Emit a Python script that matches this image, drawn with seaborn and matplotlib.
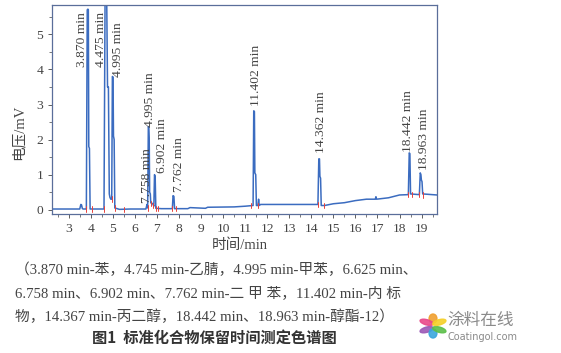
import matplotlib.pyplot as plt
import matplotlib.patches as mpatches
import seaborn as sns
import numpy as np
import pandas as pd

# chromatogram trace (time in min, signal in mV)
trace_time = [2.25, 3.50, 3.55, 3.58, 3.62, 3.66, 3.80, 3.84, 3.87, 3.89, 3.91, 3.94, 3.97,
              4.60, 4.65, 4.72, 4.76, 4.80, 4.84, 4.87, 4.91, 4.95, 4.98, 5.01, 5.03, 5.06, 5.09,
              5.30, 5.80, 6.20, 6.50, 6.55, 6.58, 6.61, 6.63, 6.65, 6.67, 6.70, 6.72, 6.75,
              6.80, 6.86, 6.89, 6.92, 6.95, 7.20, 7.70, 7.73, 7.77, 7.80, 8.40, 8.50, 9.20,
              9.30, 10.5, 11.0, 11.36, 11.39, 11.42, 11.44, 11.48, 11.51, 11.58, 11.61, 11.64,
              11.70, 12.5, 13.5, 14.30, 14.34, 14.37, 14.39, 14.42, 14.45, 14.60, 15.0, 15.5,
              16.0, 16.5, 16.9, 16.93, 16.96, 17.5, 18.0, 18.40, 18.44, 18.47, 18.50, 18.90,
              18.94, 18.97, 18.99, 19.02, 19.05, 19.70]
trace_mv = [0.02, 0.02, 0.15, 0.14, 0.03, 0.02, 0.02, 5.70, 5.72, 5.70, 1.80, 1.75, 0.02,
            0.02, 6.20, 6.20, 3.50, 3.50, 0.45, 0.35, 0.30, 0.30, 3.80, 3.78, 2.10, 2.00, 0.05,
            0.01, 0.02, 0.02, 0.02, 0.15, 0.05, 2.37, 2.35, 2.05, 0.50, 0.45, 0.20, 0.18,
            0.18, 0.10, 1.00, 0.95, 0.04, 0.03, 0.03, 0.40, 0.38, 0.03, 0.03, 0.06, 0.04,
            0.07, 0.08, 0.10, 0.12, 2.82, 2.80, 1.05, 1.00, 0.12, 0.12, 0.30, 0.12,
            0.15, 0.15, 0.15, 0.15, 1.45, 1.45, 0.95, 0.90, 0.12, 0.12, 0.17, 0.20,
            0.26, 0.30, 0.30, 0.37, 0.30, 0.34, 0.42, 0.43, 1.62, 1.60, 0.45, 0.43,
            1.05, 1.00, 0.85, 0.80, 0.45, 0.42]

# integration marks (red ticks) near the baseline
mark_time = [3.78, 4.06, 4.62, 4.95, 5.10, 5.50, 6.58, 6.75, 6.83, 6.97, 7.05,
             7.70, 7.88, 11.28, 11.58, 14.30, 14.58, 18.40, 18.55, 18.88, 19.05]
mark_base = [0.02, 0.02, 0.02, 0.30, 0.05, 0.01, 0.05, 0.18, 0.12, 0.04, 0.03,
             0.03, 0.03, 0.12, 0.12, 0.15, 0.12, 0.43, 0.43, 0.43, 0.42]

# peak annotations: label, x position, bottom of text
peak_labels = ["3.870 min", "4.475 min", "4.995 min", "4.995 min", "7.758 min", "6.902 min",
               "7.762 min", "11.402 min", "14.362 min", "18.442 min", "18.963 min"]
label_x = [3.60, 4.46, 5.23, 6.67, 6.53, 7.21, 8.02, 11.49, 14.42, 18.38, 19.11]
label_y = [4.07, 4.07, 3.78, 2.36, 0.20, 1.05, 0.51, 2.96, 1.62, 1.65, 1.14]

x_ticks = list(range(3, 20))
y_ticks = [0, 1, 2, 3, 4, 5]

caption_lines = [
    "（3.870 min-苯，4.745 min-乙腈，4.995 min-甲苯，6.625 min、",
    "6.758 min、6.902 min、7.762 min-二 甲 苯，11.402 min-内 标",
    "物，14.367 min-丙二醇，18.442 min、18.963 min-醇酯-12）",
]
fig_title = "图1  标准化合物保留时间测定色谱图"

sns.set_style("ticks")
plt.rcParams['font.family'] = ['Liberation Serif', 'Noto Sans CJK SC']

line_col = "#3b6cc0"
text_col = "#444444"

fig = plt.figure(figsize=(5.61, 3.53), dpi=100)
ax = fig.add_axes([0.093, 0.394, 0.686, 0.592])

df = pd.DataFrame({"t": trace_time, "mv": trace_mv})
sns.lineplot(data=df, x="t", y="mv", ax=ax, color=line_col, lw=1.1,
             sort=False, estimator=None)

for t, b in zip(mark_time, mark_base):
    ax.plot([t, t], [b - 0.08, b + 0.08], color="#e8413c", lw=0.7)

for lab, x, y in zip(peak_labels, label_x, label_y):
    ax.text(x, y, lab, rotation=90, ha="center", va="bottom",
            fontsize=9.7, color=text_col)

ax.set_xlim(2.25, 19.7)
ax.set_ylim(-0.12, 5.84)
ax.set_xticks(x_ticks)
ax.set_yticks(y_ticks)
ax.set_xticks(np.arange(2.5, 19.6, 0.5), minor=True)
ax.set_yticks(np.arange(0, 5.9, 0.5), minor=True)
ax.tick_params(axis="both", labelsize=9.7, colors=text_col, length=3, width=0.6)
ax.tick_params(which="minor", length=2, width=0.5, color=text_col)
for s in ax.spines.values():
    s.set_visible(True)
    s.set_color("#5a6e9a")
    s.set_linewidth(0.9)

ax.set_xlabel("")
ax.set_ylabel("电压/mV", fontsize=10.5, color=text_col)
ax.yaxis.set_label_coords(-0.07, 0.39)

fig.text(240 / 561, 1 - 245 / 353, "时间/min", ha="center", va="center",
         fontsize=10.5, color=text_col)

for i, line in enumerate(caption_lines):
    fig.text(15 / 561, 1 - (270 + 23.5 * i) / 353, line, ha="left", va="center",
             fontsize=10.6, color=text_col)

fig.text(214 / 561, 1 - 338 / 353, fig_title, ha="center", va="center",
         fontsize=11, fontweight="bold", color="#333333", family=["Noto Sans CJK SC"])

# logo
cx, cy = 433 / 561, 1 - 326 / 353
petal_cols = ["#f0a030", "#e94a8a", "#9b59b6", "#3aa6dd", "#5cbf4a", "#f5d02a"]
for k, pc in enumerate(petal_cols):
    ang = np.deg2rad(90 + 60 * k)
    dx, dy = 0.013 * np.cos(ang), 0.021 * np.sin(ang)
    fig.patches.append(mpatches.Ellipse((cx + dx, cy + dy), 0.014, 0.026,
                                        angle=60 * k, color=pc,
                                        transform=fig.transFigure, figure=fig, alpha=0.9))
fig.text(447 / 561, 1 - 320 / 353, "涂料在线", ha="left", va="center",
         fontsize=12, color="#8a8a8a", family=["Noto Sans CJK SC"])
fig.text(447 / 561, 1 - 337 / 353, "Coatingol.com", ha="left", va="center",
         fontsize=7, color="#8a8a8a", family=["DejaVu Sans"])

fig.savefig("out.png", dpi=100)
